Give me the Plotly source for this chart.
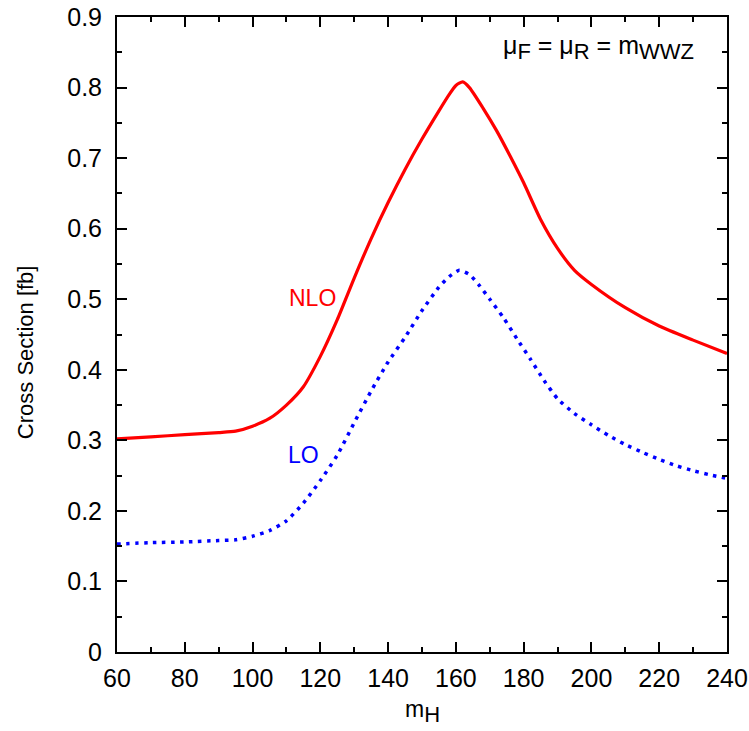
import plotly.graph_objects as go

nlo_x = [60, 70, 80, 90, 95, 100, 105, 110, 115, 120, 125, 130, 135, 140, 145, 150, 155, 158, 160, 162, 164, 168, 172, 176, 180, 185, 190, 195, 200, 210, 220, 230, 240]
nlo_y = [0.302, 0.305, 0.308, 0.311, 0.313, 0.320, 0.331, 0.350, 0.376, 0.419, 0.471, 0.530, 0.586, 0.637, 0.684, 0.727, 0.767, 0.790, 0.803, 0.808, 0.800, 0.771, 0.739, 0.703, 0.665, 0.613, 0.572, 0.541, 0.521, 0.488, 0.462, 0.442, 0.423]

lo_x = [60, 70, 80, 90, 95, 100, 105, 110, 115, 120, 125, 130, 135, 140, 145, 150, 155, 158, 161, 164, 167, 170, 174, 178, 182, 186, 190, 195, 200, 205, 210, 215, 220, 225, 230, 235, 240]
lo_y = [0.153, 0.155, 0.156, 0.158, 0.159, 0.164, 0.172, 0.186, 0.211, 0.243, 0.279, 0.325, 0.370, 0.411, 0.446, 0.484, 0.517, 0.532, 0.541, 0.535, 0.519, 0.500, 0.474, 0.444, 0.415, 0.385, 0.359, 0.338, 0.322, 0.307, 0.294, 0.283, 0.273, 0.264, 0.257, 0.251, 0.246]

x_ticks = [60, 80, 100, 120, 140, 160, 180, 200, 220, 240]
y_ticks = [0, 0.1, 0.2, 0.3, 0.4, 0.5, 0.6, 0.7, 0.8, 0.9]
y_labels = ["0", "0.1", "0.2", "0.3", "0.4", "0.5", "0.6", "0.7", "0.8", "0.9"]

FONT = "Liberation Sans, Arial, sans-serif"

fig = go.Figure()
fig.add_trace(go.Scatter(x=nlo_x, y=nlo_y, mode="lines", line=dict(color="#ff0000", width=3.2, shape="spline", smoothing=0.6), showlegend=False))
fig.add_trace(go.Scatter(x=lo_x, y=lo_y, mode="lines", line=dict(color="#0000ff", width=3.5, dash="3.5px,5.5px", shape="spline", smoothing=0.6), showlegend=False))

axis_common = dict(showgrid=False, zeroline=False, showline=True, linecolor="black", linewidth=2,
                   mirror="ticks", ticks="inside", ticklen=10, tickwidth=1.5, tickcolor="black",
                   automargin=False, ticklabeloverflow="allow",
                   tickfont=dict(family=FONT, size=25, color="black"))

fig.update_xaxes(range=[60, 240], tickvals=x_ticks, ticktext=[str(v) for v in x_ticks],
                 ticklabelstandoff=3,
                 minor=dict(dtick=10, tick0=60, ticks="inside", ticklen=5, tickwidth=1.5, tickcolor="black"),
                 **axis_common)
fig.update_yaxes(range=[0, 0.9], tickvals=y_ticks, ticktext=y_labels,
                 ticklabelstandoff=8,
                 minor=dict(dtick=0.05, tick0=0, ticks="inside", ticklen=5, tickwidth=1.5, tickcolor="black"),
                 **axis_common)

sub = lambda s: '<sub><span style="font-size:22px">' + s + '</span></sub>'

fig.update_layout(
    width=749, height=731,
    margin=dict(l=117, r=22, t=17, b=79),
    paper_bgcolor="white", plot_bgcolor="white",
    font=dict(family=FONT, color="black"),
    annotations=[
        dict(text="Cross Section [fb]", xref="paper", yref="paper", x=-0.151, y=0.472, textangle=-90,
             showarrow=False, font=dict(family=FONT, size=22, color="black"), xanchor="center", yanchor="middle"),
        dict(text="m" + sub("H"), xref="paper", yref="paper", x=0.5, y=-0.093, showarrow=False,
             font=dict(family=FONT, size=23, color="black"), xanchor="center", yanchor="middle"),
        dict(text="μ" + sub("F") + " = μ" + sub("R") + " = m" + sub("WWZ"), xref="paper", yref="paper", x=0.79, y=0.952,
             showarrow=False, font=dict(family=FONT, size=25, color="black"), xanchor="center", yanchor="middle"),
        dict(text="NLO", x=117.6, y=0.502, showarrow=False, font=dict(family=FONT, size=23, color="#ff0000"),
             xanchor="center", yanchor="middle"),
        dict(text="LO", x=115.0, y=0.279, showarrow=False, font=dict(family=FONT, size=23, color="#0000ff"),
             xanchor="center", yanchor="middle"),
    ],
)

fig.write_html("out.html", config={"displayModeBar": False},
               post_script="document.body.style.margin='0';document.body.style.overflow='hidden';")
